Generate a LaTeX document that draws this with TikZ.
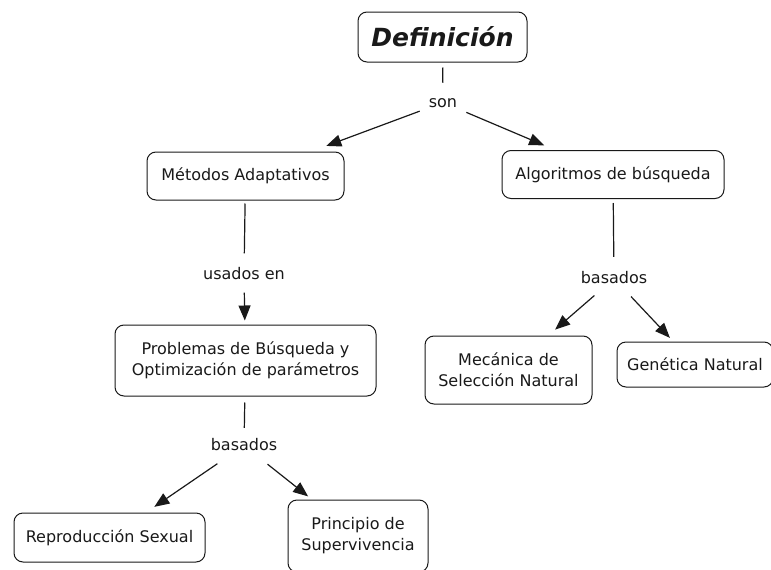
\documentclass[tikz,border=0pt]{standalone}
\usepackage{fontspec}
\setmainfont{DejaVu Sans}
\usetikzlibrary{arrows.meta}
\begin{document}
\begin{tikzpicture}[x=1pt,y=-1pt,
  box/.style={draw=black!90, line width=1pt, rounded corners=9pt, align=center,
    font=\fontsize{16}{21}\selectfont, inner sep=0pt, text=black!90},
  lbl/.style={font=\fontsize{16}{21}\selectfont, inner sep=9pt, text height=9pt, text depth=0pt, text=black!90},
  conn/.style={line width=1.2pt, draw=black!90},
  arr/.style={conn, -{Triangle[length=15pt,width=12pt]}}
]
\useasboundingbox (0,0) rectangle (771,570);

\node[box, minimum width=169pt, minimum height=50pt,
  font=\fontsize{25}{28}\selectfont\bfseries\itshape] (def) at (442.5,37) {Definición};
\node[lbl] (son) at (443,102.5) {son};

\node[box, minimum width=197pt, minimum height=48pt] (met) at (245.5,176) {Métodos Adaptativos};
\node[box, minimum width=222pt, minimum height=48pt] (alg) at (613,174.5) {Algoritmos de búsqueda};

\node[lbl] (usa) at (244,275) {usados en};
\node[box, minimum width=261pt, minimum height=71pt] (prob) at (245.5,360.5)
  {Problemas de Búsqueda y\\Optimización de parámetros};

\node[lbl] (bas1) at (244,445.5) {basados};
\node[box, minimum width=191pt, minimum height=49pt] (rep) at (109.5,537.5) {Reproducción Sexual};
\node[box, minimum width=140pt, minimum height=72pt] (pri) at (358,536) {Principio de\\Supervivencia};

\node[lbl] (bas2) at (614,278.5) {basados};
\node[box, minimum width=167pt, minimum height=68pt] (mec) at (508.5,370) {Mecánica de\\Selección Natural};
\node[box, minimum width=156pt, minimum height=45pt] (gen) at (695,364.5) {Genética Natural};

\draw[conn, shorten <=5pt, shorten >=6pt] (def) -- (son);
\draw[arr, shorten >=16pt] (son) -- (met);
\draw[arr, shorten >=12pt] (son) -- (alg);

\draw[conn, shorten <=3pt, shorten >=8pt] (met) -- (usa);
\draw[arr, shorten <=4pt, shorten >=4pt] (usa) -- (prob);

\draw[conn, shorten <=6pt, shorten >=4pt] (prob) -- (bas1);
\draw[arr, shorten <=8pt, shorten >=10pt] (bas1) -- (rep);
\draw[arr, shorten <=8pt, shorten >=5pt] (bas1) -- (pri);

\draw[conn, shorten <=4pt, shorten >=8pt] (alg) -- (bas2);
\draw[arr, shorten <=5pt, shorten >=9pt] (bas2) -- (mec);
\draw[arr, shorten <=6pt, shorten >=5pt] (bas2) -- (gen);
\end{tikzpicture}
\end{document}
